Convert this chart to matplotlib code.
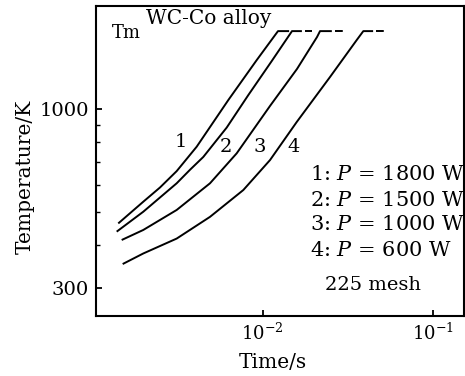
import matplotlib
matplotlib.use("Agg")
import matplotlib.pyplot as plt
from matplotlib.ticker import FixedLocator, NullFormatter, NullLocator

plt.rcParams['font.family'] = ['DejaVu Serif']
plt.rcParams['mathtext.fontset'] = 'dejavuserif'

# ---- data ----
Tm = 1695  # melting temperature plateau, K

t1 = [1.414e-3, 1.984e-3, 2.488e-3, 3.119e-3, 4.09e-3, 6.28e-3, 9.22e-3, 1.230e-2]
T1 = [463, 536, 590, 659, 777, 1065, 1394, 1695]

t2 = [1.384e-3, 1.984e-3, 3.119e-3, 3.736e-3, 4.472e-3, 6.14e-3, 8.23e-3, 1.13e-2, 1.487e-2]
T2 = [438, 501, 607, 665, 725, 884, 1101, 1385, 1695]

t3 = [1.481e-3, 1.984e-3, 3.119e-3, 4.898e-3, 7.03e-3, 1.104e-2, 1.591e-2, 2.087e-2, 2.173e-2]
T3 = [414, 443, 507, 607, 743, 1023, 1313, 1629, 1695]

t4 = [1.501e-3, 1.984e-3, 3.119e-3, 4.898e-3, 7.69e-3, 1.104e-2, 1.585e-2, 2.489e-2, 3.572e-2, 3.906e-2]
T4 = [352, 378, 418, 484, 580, 710, 918, 1244, 1596, 1695]

# end of the solid plateau part and end of the dashed continuation
plateau_solid_end = [1.43e-2, 1.70e-2, 2.55e-2, 4.46e-2]
plateau_dash_end = [1.43e-2, 1.95e-2, 3.01e-2, 5.38e-2]

curve_labels = ["1", "2", "3", "4"]
label_t = [3.31e-3, 6.08e-3, 9.55e-3, 1.514e-2]
label_T = [804, 777, 777, 777]

legend_lines = ["1: $P$ = 1800 W", "2: $P$ = 1500 W", "3: $P$ = 1000 W", "4: $P$ = 600 W"]
mesh_text = "225 mesh"

x_ticks = [1e-2, 1e-1]
x_ticklabels = [r"$10^{-2}$", r"$10^{-1}$"]
y_ticks = [300, 1000]
y_minor = [400, 500, 600, 700, 800, 900]

# ---- figure ----
fig = plt.figure(figsize=(4.65, 3.76), dpi=100)
ax = fig.add_axes([96/465, 60/376, 368/465, 310/376])
ax.set_xscale('log')
ax.set_yscale('log')
ax.set_xlim(1.046e-3, 0.1527)
ax.set_ylim(247.9, 2008)

lw = 1.4
for t, T, se, de in zip([t1, t2, t3, t4], [T1, T2, T3, T4], plateau_solid_end, plateau_dash_end):
    ax.plot(t + [se], T + [Tm], color='black', lw=lw, solid_capstyle='butt',
            solid_joinstyle='round')
    if de > se:
        ax.plot([se * 1.04, de], [Tm, Tm], color='black', lw=lw, ls=(0, (4, 3)))

for s, x, y in zip(curve_labels, label_t, label_T):
    ax.text(x, y, s, ha='center', va='center', fontsize=14)

for i, s in enumerate(legend_lines):
    ax.text((310-96)/368, (316-175-25*i)/310, s, transform=ax.transAxes,
            ha='left', va='center', fontsize=15, clip_on=False)
ax.text((373-96)/368, (316-285)/310, mesh_text, transform=ax.transAxes,
        ha='center', va='center', fontsize=14)

ax.text((126-96)/368, (316-33)/310, "Tm", transform=ax.transAxes,
        ha='center', va='center', fontsize=13)
ax.text((209-96)/368, (316-18)/310, "WC-Co alloy", transform=ax.transAxes,
        ha='center', va='center', fontsize=14.5)

# ticks
ax.xaxis.set_major_locator(FixedLocator(x_ticks))
ax.set_xticklabels(x_ticklabels)
ax.xaxis.set_minor_locator(NullLocator())
ax.yaxis.set_major_locator(FixedLocator(y_ticks))
ax.set_yticklabels([str(v) for v in y_ticks])
ax.yaxis.set_minor_locator(FixedLocator(y_minor))
ax.yaxis.set_minor_formatter(NullFormatter())
ax.tick_params(axis='both', which='major', direction='in', length=4, width=1.3, pad=5)
ax.tick_params(axis='both', which='minor', direction='in', length=3, width=1.0)
ax.tick_params(axis='x', labelsize=13)
ax.tick_params(axis='y', labelsize=14)
for sp in ax.spines.values():
    sp.set_linewidth(1.5)

ax.set_xlabel("Time/s", fontsize=14.5)
ax.xaxis.set_label_coords((272.5-96)/368, (316-362)/310)
ax.xaxis.label.set_va('center')
ax.set_ylabel("Temperature/K", fontsize=14.5)
ax.yaxis.set_label_coords((25.5-96)/368, (316-176.5)/310)
ax.yaxis.label.set_va('center')

fig.savefig("out.png", dpi=100)
